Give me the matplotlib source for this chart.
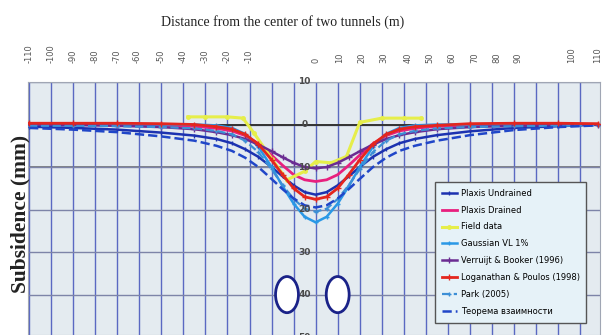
import numpy as np
import matplotlib
matplotlib.use("Agg")
import matplotlib.pyplot as plt
from matplotlib.patches import Ellipse

# ---------------- data ----------------
x = [-130, -110, -90, -70, -55, -45, -38, -32, -26, -20, -15, -10, -5, 0,
     5, 10, 15, 20, 26, 32, 38, 45, 55, 70, 90, 110, 128]

plaxis_undrained = [-0.5, -0.8, -1.2, -1.9, -2.6, -3.4, -4.4, -5.8, -7.6, -10.0, -12.2, -14.3, -15.9, -16.5,
                    -15.9, -14.3, -12.2, -10.0, -7.6, -5.8, -4.4, -3.4, -2.5, -1.6, -0.8, -0.4, 0.0]
plaxis_drained = [0, 0, 0, -0.1, -0.4, -0.9, -1.5, -2.6, -4.5, -7.2, -9.6, -11.8, -13.0, -13.4,
                  -13.0, -11.8, -9.6, -7.2, -4.5, -2.6, -1.5, -0.9, -0.4, -0.1, 0, 0, 0]
gaussian = [0, 0, 0, 0, 0, -0.2, -0.8, -2.2, -5.2, -10.0, -14.5, -18.6, -21.7, -23.0,
            -21.7, -18.6, -14.5, -10.0, -5.2, -2.2, -0.8, -0.2, 0, 0, 0, 0, 0]
verruijt = [0, -0.1, -0.3, -0.6, -1.1, -1.8, -2.5, -3.4, -4.7, -6.3, -7.7, -9.0, -10.0, -10.3,
            -10.0, -9.0, -7.7, -6.3, -4.7, -3.4, -2.5, -1.8, -1.1, -0.6, -0.3, -0.1, 0]
loganathan = [0.3, 0.3, 0.3, 0.2, 0, -0.5, -1.1, -2.3, -4.6, -8.3, -11.8, -15.0, -17.0, -17.6,
              -17.0, -15.0, -11.8, -8.3, -4.6, -2.3, -1.1, -0.5, -0.2, 0.2, 0.3, 0.3, 0.2]
park = [-0.3, -0.3, -0.4, -0.6, -0.9, -1.5, -2.3, -3.8, -6.5, -10.5, -14.3, -17.5, -19.8, -20.5,
        -19.8, -17.5, -14.3, -10.5, -6.5, -3.8, -2.3, -1.5, -0.9, -0.6, -0.4, -0.3, -0.2]
teorema = [-0.8, -1.2, -1.8, -2.8, -3.8, -5.0, -6.2, -7.8, -10.0, -12.8, -15.2, -17.4, -19.0, -19.5,
           -19.0, -17.4, -15.2, -12.8, -10.0, -7.8, -6.2, -5.0, -3.8, -2.5, -1.3, -0.6, -0.2]

field_x = [-58, -50, -40, -33, -28, -20, -13, -5, 0, 7, 14, 20, 30, 40, 48]
field_v = [1.8, 1.8, 1.8, 1.5, -2.0, -8.0, -13.0, -11.0, -8.7, -9.0, -7.5, 0.5, 1.5, 1.5, 1.5]

top_tick_pos = [-130, -120, -110, -100, -90, -81, -70, -60, -50, -40, -30, 0, 11, 21, 31, 42, 52, 62, 72, 82, 92, 116, 128]
top_tick_lab = ["-110", "-100", "-90", "-80", "-70", "-60", "-50", "-40", "-30", "-20", "-10", "0",
                "10", "20", "30", "40", "50", "60", "70", "80", "90", "100", "110"]

y_lab_pos = [10, 0, -10, -20, -30, -40, -50]
y_lab_txt = ["10", "0", "10", "20", "30", "40", "50"]

tunnel_x = [-13, 10]
tunnel_y = [-40, -40]

# ---------------- figure ----------------
fig = plt.figure(figsize=(6.06, 3.35), dpi=100)
ax = fig.add_axes([28 / 606, 0.0, 572 / 606, 253 / 335])
ax.set_facecolor("#e4ebf0")
ax.set_xlim(-130.5, 129)
ax.set_ylim(-49.5, 10)

# top tick labels
ax.xaxis.tick_top()
ax.set_xticks(top_tick_pos)
ax.set_xticklabels(top_tick_lab, rotation=90, fontsize=6, color="#555555")
ax.tick_params(axis="x", which="major", pad=14, length=0)

# grid
ax.xaxis.remove_overlapping_locs = False
ax.set_xticks(np.arange(-130, 129, 10), minor=True)
ax.set_yticks(np.arange(-40, 11, 10))
ax.grid(which="minor", axis="x", color="#5a68c2", lw=1.0, zorder=1)
ax.grid(which="major", axis="y", color="#7d84a8", lw=1.0, zorder=1)
ax.grid(which="major", axis="x", visible=False)
ax.tick_params(axis="y", length=0, labelleft=False)
ax.tick_params(axis="x", which="minor", length=0)
ax.axhline(0, color="#333333", lw=1.4, zorder=2)
ax.axhline(-10, color="#666666", lw=1.1, zorder=1.5)

for s in ax.spines.values():
    s.set_color("#a0a6b4")
    s.set_linewidth(0.8)

# curves
ax.plot(x, plaxis_undrained, color="#1c32b0", lw=1.8, marker="|", ms=3, label="Plaxis Undrained", zorder=4)
ax.plot(x, plaxis_drained, color="#e8207e", lw=2.0, label="Plaxis Drained", zorder=4)
ax.plot(field_x, field_v, color="#e6ee4a", lw=2.2, marker="o", ms=2.5, label="Field data", zorder=4)
ax.plot(x, gaussian, color="#2a98e6", lw=1.8, marker="+", ms=3, label="Gaussian VL 1%", zorder=4)
ax.plot(x, verruijt, color="#6b2c92", lw=1.8, marker="+", ms=4, label="Verruijt & Booker (1996)", zorder=4)
ax.plot(x, loganathan, color="#e4261e", lw=2.0, marker="+", ms=4, label="Loganathan & Poulos (1998)", zorder=5)
ax.plot(x, park, color="#3c8fd6", lw=1.6, ls="--", marker="+", ms=3, label="Park (2005)", zorder=4)
ax.plot(x, teorema, color="#2046c8", lw=1.8, ls="--", label="Теорема взаимности", zorder=4)

# y labels inside the plot
for v, t in zip(y_lab_pos, y_lab_txt):
    ax.text(-5, v, t, fontsize=6.5, fontweight="bold", color="#4a4a4a",
            ha="center", va="center", zorder=6, clip_on=False)

# tunnels
for tx, ty in zip(tunnel_x, tunnel_y):
    ax.add_patch(Ellipse((tx, ty), 10.4, 8.5, facecolor="white", edgecolor="#1a2288", lw=2, zorder=6))

leg = ax.legend(loc="upper left", bbox_to_anchor=(0.7115, 0.605), borderaxespad=0,
                prop={"family": ["Liberation Sans Narrow", "DejaVu Sans"], "size": 6},
                frameon=True, fancybox=False, handlelength=1.8, labelspacing=0.95,
                borderpad=0.8, handletextpad=0.5)
leg.get_frame().set_facecolor("#e6f2f8")
leg.get_frame().set_edgecolor("#555555")
leg.get_frame().set_alpha(1)
leg.set_zorder(7)

fig.text(283 / 606, 1 - 22 / 335, "Distance from the center of two tunnels (m)",
         ha="center", va="center", fontsize=10, family="Liberation Serif", color="#222222")
fig.text(20 / 606, 1 - 214 / 335, "Subsidence (mm)", rotation=90, ha="center", va="center",
         fontsize=15.5, fontweight="bold", family="Liberation Serif", color="#222222")

fig.savefig("out.png", dpi=100)
